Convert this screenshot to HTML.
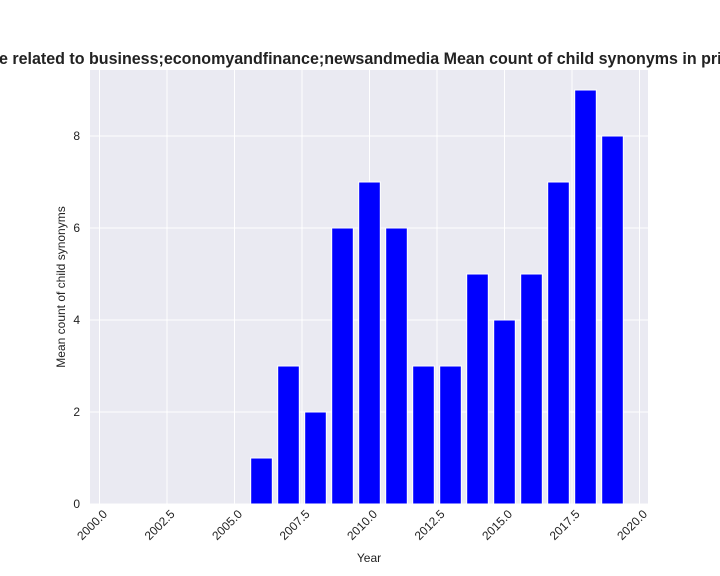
<!DOCTYPE html>
<html><head><meta charset="utf-8"><style>
html,body{margin:0;padding:0;background:#fff;overflow:hidden}
svg{font-family:"Liberation Sans","DejaVu Sans",sans-serif;display:block}
</style></head><body>
<svg id="chart" width="720" height="576" viewBox="0 0 720 576">
<text x="-1" y="64" font-size="16.5" font-weight="bold" fill="#222" textLength="785" lengthAdjust="spacingAndGlyphs">e related to business;economyandfinance;newsandmedia Mean count of child synonyms in prior years</text>
<rect x="90" y="70" width="558" height="434" fill="#eaeaf2"/>
<g id="grid"></g><g id="bars"></g><g id="xt"></g><g id="yt"></g>
<text x="369" y="562" font-size="12" text-anchor="middle" fill="#222">Year</text>
<text transform="translate(65,287) rotate(-90)" font-size="12" text-anchor="middle" fill="#222">Mean count of child synonyms</text>
</svg>
<script>
const years=[2006,2007,2008,2009,2010,2011,2012,2013,2014,2015,2016,2017,2018,2019];
const values=[1,3,2,6,7,6,3,3,5,4,5,7,9,8];
const xTicks=[2000,2002.5,2005,2007.5,2010,2012.5,2015,2017.5,2020];
const xTickLabels=["2000.0","2002.5","2005.0","2007.5","2010.0","2012.5","2015.0","2017.5","2020.0"];
const yTicks=[0,2,4,6,8];
const NS="http://www.w3.org/2000/svg";
const xs=v=>99.5+(v-2000)*27;
const ys=v=>504-v*46;
function mk(t,a,p){const e=document.createElementNS(NS,t);for(const k in a)e.setAttribute(k,a[k]);p.appendChild(e);return e;}
const g=document.getElementById('grid'),b=document.getElementById('bars'),xt=document.getElementById('xt'),yt=document.getElementById('yt');
xTicks.forEach((t,i)=>{
 const l=mk('line',{x1:xs(t),x2:xs(t),y1:70,y2:504,stroke:'#fff','stroke-width':1},g);
 
 
 const x=xs(t),y=512;
 const tx=mk('text',{x:x,y:y,'font-size':12,fill:'#222','text-anchor':'end',transform:`rotate(-45 ${x} ${y}) translate(4 8)`},xt);
 tx.textContent=xTickLabels[i];
 
 
});
yTicks.forEach(t=>{
 const l=mk('line',{x1:90,x2:648,y1:ys(t),y2:ys(t),stroke:'#fff','stroke-width':1},g);
 
 
 const tx=mk('text',{x:80,y:ys(t)+4,'font-size':12,fill:'#222','text-anchor':'end'},yt);
 tx.textContent=t;
 
 
});
years.forEach((yr,i)=>{
 const w=0.8*27;
 const r=mk('rect',{x:xs(yr)-w/2,y:ys(values[i]),width:w,height:ys(0)-ys(values[i]),fill:'#0000ff',stroke:'#fff','stroke-width':1},b);
 
 
});
</script>
</body></html>
